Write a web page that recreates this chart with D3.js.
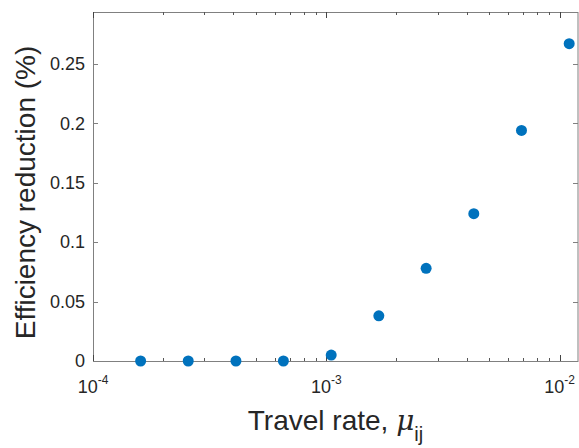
<!DOCTYPE html>
<html>
<head>
<meta charset="utf-8">
<script src="https://cdn.jsdelivr.net/npm/d3@7"></script>
<style>
  body { margin:0; background:#fff; }
  text { font-family: "Liberation Sans", Arial, Helvetica, sans-serif; fill:#262626; }
</style>
</head>
<body>
<script>
// travel rate values (x) and efficiency reduction (%)
var travelRate = [0.00016, 0.000256, 0.00041, 0.000655, 0.00105, 0.00168, 0.00268, 0.00429, 0.00687, 0.011];
var effReduction = [0, 0, 0, 0, 0.005, 0.038, 0.078, 0.124, 0.194, 0.267];
var yTicks = [0, 0.05, 0.1, 0.15, 0.2, 0.25];
var yTickLabels = ["0", "0.05", "0.1", "0.15", "0.2", "0.25"];
var xMajor = [1e-4, 1e-3, 1e-2];
var xMajorExp = ["-4", "-3", "-2"];
var xMinor = [2e-4,3e-4,4e-4,5e-4,6e-4,7e-4,8e-4,9e-4,2e-3,3e-3,4e-3,5e-3,6e-3,7e-3,8e-3,9e-3];

var width = 579, height = 448;
var margin = {left:93, right:1, top:12, bottom:87};
var w = width - margin.left - margin.right;
var h = height - margin.top - margin.bottom;

var svg = d3.select("body").append("svg")
            .attr("width", width)
            .attr("height", height);

var g = svg.append("g")
           .attr("transform","translate("+margin.left+","+margin.top+")");

var x = d3.scaleLog().domain([1e-4, 0.012]).range([0, w]);
var y = d3.scaleLinear().domain([0, 0.2937]).range([h, 0]);

var axisColor = "#808080";

// box
g.append("rect")
 .attr("x", 0.5).attr("y", 0.5)
 .attr("width", w - 0.5).attr("height", h)
 .attr("fill","none")
 .attr("stroke", axisColor)
 .attr("stroke-width", 1);

// y ticks (left and right, inward)
yTicks.forEach(function(t, i){
  var yy = Math.round(y(t)) + 0.5;
  g.append("line").attr("x1",0).attr("x2",5).attr("y1",yy).attr("y2",yy)
   .attr("stroke",axisColor);
  g.append("line").attr("x1",w).attr("x2",w-5).attr("y1",yy).attr("y2",yy)
   .attr("stroke",axisColor);
  g.append("text")
   .attr("x", -8)
   .attr("y", y(t))
   .attr("dy", "0.35em")
   .attr("text-anchor","end")
   .style("font-size","18px")
   .text(yTickLabels[i]);
});

// x major ticks
xMajor.forEach(function(t, i){
  var xx = Math.round(x(t)) + 0.5;
  g.append("line").attr("x1",xx).attr("x2",xx).attr("y1",h).attr("y2",h-6)
   .attr("stroke","#444");
  g.append("line").attr("x1",xx).attr("x2",xx).attr("y1",0).attr("y2",6)
   .attr("stroke","#444");
  var lbl = g.append("text")
   .attr("x", x(t))
   .attr("y", h + 32)
   .attr("text-anchor","middle")
   .style("font-size","18px");
  lbl.append("tspan").text("10");
  lbl.append("tspan").attr("dy", -9).style("font-size","12px").text(xMajorExp[i]);
});

// x minor ticks
xMinor.forEach(function(t){
  var xx = Math.round(x(t)) + 0.5;
  g.append("line").attr("x1",xx).attr("x2",xx).attr("y1",h).attr("y2",h-3)
   .attr("stroke","#555");
  g.append("line").attr("x1",xx).attr("x2",xx).attr("y1",0).attr("y2",3)
   .attr("stroke","#555");
});

// points
g.selectAll("circle")
 .data(travelRate)
 .enter().append("circle")
 .attr("cx", function(d,i){ return x(d); })
 .attr("cy", function(d,i){ return y(effReduction[i]); })
 .attr("r", 5.5)
 .attr("fill", "#0072BD");

// x label
var xl = g.append("text")
 .attr("x", w/2)
 .attr("y", h + 69)
 .attr("text-anchor","middle")
 .style("font-size","28px");
xl.append("tspan").text("Travel rate, ");
xl.append("tspan").style("font-style","italic").style("font-family","'DejaVu Serif', 'Liberation Serif', serif").text("\u03bc");
xl.append("tspan").attr("dy", 11).style("font-size","20px").text("ij");

// y label
g.append("text")
 .attr("transform","translate("+(-58)+","+(h/2 + 6)+") rotate(-90)")
 .attr("text-anchor","middle")
 .style("font-size","28px")
 .text("Efficiency reduction (%)");
</script>
</body>
</html>
